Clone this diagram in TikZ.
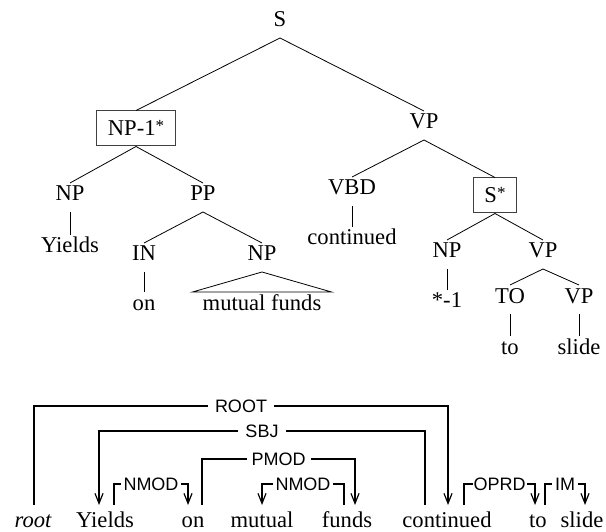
\documentclass[tikz,border=0pt]{standalone}
\usepackage{fontspec}
\setmainfont{Liberation Serif}
\setsansfont{Liberation Sans}
\usetikzlibrary{arrows.meta}
\newcommand{\trcstar}{\raisebox{4pt}{\fontsize{17}{17}\selectfont*}}
\begin{document}
\begin{tikzpicture}[x=1pt,y=-1pt,
  font=\fontsize{22.6}{27}\selectfont,
  cat/.style={anchor=base,inner sep=0pt,text height=15pt,text depth=8pt,outer ysep=3pt},
  boxed/.style={anchor=base,draw=black!75,line width=1pt,inner xsep=11pt,inner ysep=6pt,text height=19pt,text depth=4pt},
  treeedge/.style={line width=0.8pt},
  word/.style={anchor=base,inner sep=0pt,text height=15pt,text depth=0pt,outer ysep=7pt},
  deparc/.style={line width=1.2pt,-{Straight Barb[length=10pt,width=8pt,line width=1.2pt]}},
  rel/.style={font=\sffamily\fontsize{18}{20}\selectfont,fill=white,inner xsep=5pt,inner ysep=1pt},
  relsmall/.style={rel,inner xsep=3pt},
]
\useasboundingbox (0,0) rectangle (606,532);

% ---------- phrase-structure tree ----------
\node[cat]   (s)     at (280,27)  {S};
\node[boxed] (np1)   at (136,136) {NP-1\trcstar};
\node[cat]   (vp)    at (424,129) {VP};
\node[cat]   (npy)   at (70,201)  {NP};
\node[cat]   (pp)    at (203,201) {PP};
\node[cat]   (vbd)   at (352,195) {VBD};
\node[boxed] (sstar) at (495,203) {S\trcstar};
\node[cat]   (yields) at (70,253) {Yields};
\node[cat]   (in)    at (144,261) {IN};
\node[cat]   (npmf)  at (262,261) {NP};
\node[cat]   (on)    at (144,310) {on};
\node[cat,inner xsep=10pt] (mf) at (262,310) {mutual funds};
\node[cat]   (cont)  at (352,245) {continued};
\node[cat]   (npt)   at (447,258) {NP};
\node[cat]   (vpt)   at (543,258) {VP};
\node[cat]   (trace) at (447,308) {*-1};
\node[cat]   (to)    at (510,303) {TO};
\node[cat]   (vps)   at (579,303) {VP};
\node[cat]   (tow)   at (510,354) {to};
\node[cat]   (slide) at (579,354) {slide};

\draw[treeedge] (s.south) -- (np1.north);
\draw[treeedge] (s.south) -- (vp.north);
\draw[treeedge] (np1.south) -- (npy.north);
\draw[treeedge] (np1.south) -- (pp.north);
\draw[treeedge] (vp.south) -- (vbd.north);
\draw[treeedge] (vp.south) -- (sstar.north);
\draw[treeedge] (npy.south) -- (yields.north);
\draw[treeedge] (pp.south) -- (in.north);
\draw[treeedge] (pp.south) -- (npmf.north);
\draw[treeedge] (in.south) -- (on.north);
\draw[treeedge] (npmf.south) -- (mf.north west) -- (mf.north east) -- cycle;
\draw[treeedge] (vbd.south) -- (cont.north);
\draw[treeedge] (sstar.south) -- (npt.north);
\draw[treeedge] (sstar.south) -- (vpt.north);
\draw[treeedge] (npt.south) -- (trace.north);
\draw[treeedge] (vpt.south) -- (to.north);
\draw[treeedge] (vpt.south) -- (vps.north);
\draw[treeedge] (to.south) -- (tow.north);
\draw[treeedge] (vps.south) -- (slide.north);

% ---------- dependency structure ----------
\node[word] (wroot)   at (33,527)  {\itshape root};
\node[word] (wyields) at (105,527) {Yields};
\node[word] (won)     at (193,527) {on};
\node[word] (wmutual) at (262,527) {mutual};
\node[word] (wfunds)  at (347,527) {funds};
\node[word] (wcont)   at (447,527) {continued};
\node[word] (wto)     at (538,527) {to};
\node[word] (wslide)  at (582,527) {slide};

\draw[deparc] ([xshift=1pt]wroot.north) -- ++(0,-99)
  -| ([xshift=1pt]wcont.north) node[pos=.25,rel,inner xsep=7pt] {ROOT};
\draw[deparc] ([xshift=-22pt]wcont.north) -- ++(0,-74)
  -| ([xshift=-6pt]wyields.north) node[pos=.25,rel,inner xsep=7pt] {SBJ};
\draw[deparc] ([xshift=9pt]won.north) -- ++(0,-46)
  -| ([xshift=8pt]wfunds.north) node[pos=.25,rel] {PMOD};
\draw[deparc] ([xshift=9pt]wyields.north) -- ++(0,-21)
  -| ([xshift=-5pt]won.north) node[pos=.25,relsmall] {NMOD};
\draw[deparc] ([xshift=-3pt]wfunds.north) -- ++(0,-21)
  -| (wmutual.north) node[pos=.25,relsmall] {NMOD};
\draw[deparc] ([xshift=17pt]wcont.north) -- ++(0,-21)
  -| ([xshift=-3pt]wto.north) node[pos=.25,rel,inner xsep=1pt] {OPRD};
\draw[deparc] ([xshift=7pt]wto.north) -- ++(0,-21)
  -| ([xshift=3pt]wslide.north) node[pos=.25,relsmall] {IM};
\end{tikzpicture}
\end{document}
